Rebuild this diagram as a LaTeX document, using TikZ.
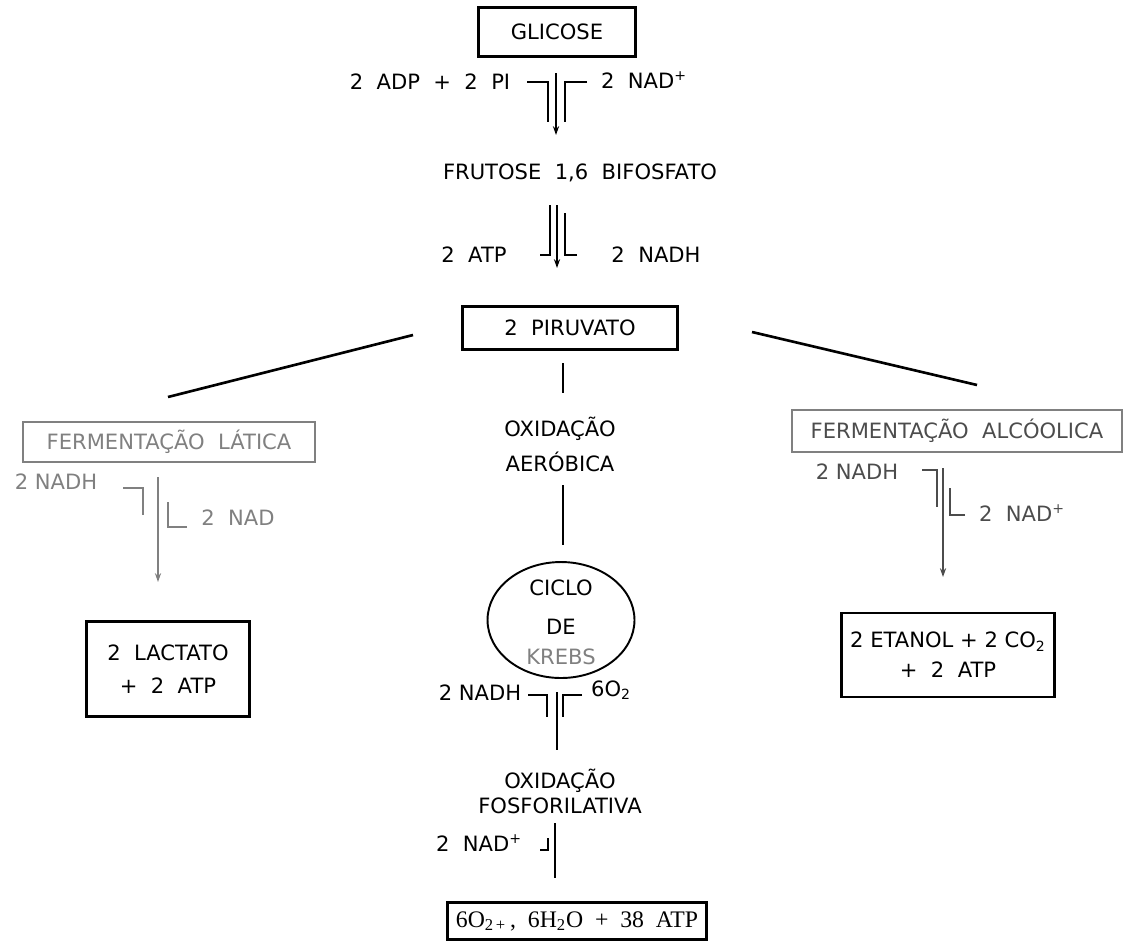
\documentclass[tikz,border=0pt]{standalone}
\usepackage{fontspec}
\setmainfont{DejaVu Sans}
\newfontfamily\serifa{Liberation Serif}
\usepackage{xcolor}
\usetikzlibrary{positioning, arrows.meta, shapes.geometric, calc}
\colorlet{cinza}{black!50}
\colorlet{cinzaesc}{black!70}

\begin{document}
\begin{tikzpicture}[x=0.02cm, y=-0.02cm,
    font=\fontsize{12}{20}\selectfont,
    box/.style={draw, line width=1.4pt, inner sep=0pt, align=center},
    txt/.style={inner sep=0pt, align=center},
    seta/.style={line width=0.9pt, -{Stealth[length=5pt,width=3.5pt]}},
    traco/.style={line width=0.9pt},
    diag/.style={line width=1.5pt}]
    \useasboundingbox (0,0) rectangle (1124,944);

    % Glicolise
    \node[box, minimum width=3.14cm, minimum height=0.98cm] (glicose) at (557,32) {GLICOSE};
    \node[txt] (adp) at (430,82) {2\ \ ADP\ \ +\ \ 2\ \ PI};
    \node[txt] (nadmais) at (644,80) {2\ \ NAD\textsuperscript{+}};
    \node[txt] (frutose) at (580,173) {FRUTOSE\ \ 1,6\ \ BIFOSFATO};
    \node[txt] (atp) at (474,255) {2\ \ ATP};
    \node[txt] (nadh) at (656,255) {2\ \ NADH};
    \node[box, minimum width=4.3cm, minimum height=0.86cm] (piruvato) at (570,328) {2\ \ PIRUVATO};

    \coordinate (g1) at (556,73);
    \coordinate (g2) at (556,135);
    \draw[seta] (g1) -- (g2);
    \coordinate (adpin) at (527,82);
    \draw[traco] (adpin) -- ++(21,0) -- ++(0,40);
    \coordinate (nadin) at (587,82);
    \draw[traco] (nadin) -- ++(-22,0) -- ++(0,40);

    \coordinate (f1) at (557,205);
    \coordinate (f2) at (557,268);
    \draw[seta] (f1) -- (f2);
    \coordinate (atpout) at (540,255);
    \draw[traco] (atpout) -- ++(10,0) -- ++(0,-50);
    \coordinate (nadhout) at (577,255);
    \draw[traco] (nadhout) -- ++(-12,0) -- ++(0,-42);

    % Ramos
    \coordinate (ramoe1) at (413,335);
    \coordinate (ramoe2) at (168,397);
    \draw[diag] (ramoe1) -- (ramoe2);
    \coordinate (ramod1) at (752,332);
    \coordinate (ramod2) at (977,385);
    \draw[diag] (ramod1) -- (ramod2);

    % Fermentacao latica
    \node[box, draw=cinza, text=cinza, line width=1.2pt, minimum width=5.84cm, minimum height=0.8cm] (latica) at (169,442) {FERMENTAÇÃO\ \ LÁTICA};
    \node[txt, text=cinza] (nadhl) at (56,482) {2\ NADH};
    \node[txt, text=cinza] (nadl) at (238,518) {2\ \ NAD};
    \node[box, minimum width=3.26cm, minimum height=1.9cm, font=\fontsize{12}{19}\selectfont] (lactato) at (168,669) {2\ \ LACTATO\\+\ \ 2\ \ ATP};
    \coordinate (l1) at (158,477);
    \coordinate (l2) at (158,582);
    \draw[seta, draw=cinza] (l1) -- (l2);
    \coordinate (nadhlin) at (123,488);
    \draw[traco, draw=cinza] (nadhlin) -- ++(20,0) -- ++(0,27);
    \coordinate (nadlout) at (187,527);
    \draw[traco, draw=cinza] (nadlout) -- ++(-19,0) -- ++(0,-25);

    % Oxidacao aerobica
    \coordinate (p1) at (563,363);
    \coordinate (p2) at (563,393);
    \draw[traco] (p1) -- (p2);
    \node[txt, font=\fontsize{12}{20}\selectfont] (aerobica) at (560,444) {OXIDAÇÃO\\AERÓBICA};
    \coordinate (a1) at (563,485);
    \coordinate (a2) at (563,545);
    \draw[traco] (a1) -- (a2);
    \node[ellipse, draw, line width=1.1pt, minimum width=2.94cm, minimum height=2.32cm] (krebs) at (561,620) {};
    \node[txt] (ciclo) at (561,588) {CICLO};
    \node[txt] (de) at (561,627) {DE};
    \node[txt, text=cinza] (krebstxt) at (561,657) {KREBS};
    \node[txt] (nadhk) at (480,693) {2 NADH};
    \node[txt] (oxig) at (611,690) {6O\textsubscript{2}};
    \coordinate (k1) at (557,692);
    \coordinate (k2) at (557,750);
    \draw[traco] (k1) -- (k2);
    \coordinate (nadhkin) at (528,695);
    \draw[traco] (nadhkin) -- ++(19,0) -- ++(0,22);
    \coordinate (oxigin) at (582,695);
    \draw[traco] (oxigin) -- ++(-19,0) -- ++(0,22);
    \node[txt, font=\fontsize{12}{19}\selectfont] (fosforilativa) at (560,791) {OXIDAÇÃO\\[-0.4em]FOSFORILATIVA};
    \node[txt] (nadk) at (479,843) {2\ \ NAD\textsuperscript{+}};
    \coordinate (o1) at (555,823);
    \coordinate (o2) at (555,878);
    \draw[traco] (o1) -- (o2);
    \coordinate (nadkout) at (540,850);
    \draw[traco] (nadkout) -- ++(8,0) -- ++(0,-12);
    \node[box, minimum width=5.18cm, minimum height=0.74cm, font=\serifa\fontsize{13.5}{16}\selectfont] (final) at (577,921) {6O\textsubscript{2\,+}\,,\ \ 6H\textsubscript{2}O\ \ +\ \ 38\ \ ATP};

    % Fermentacao alcoolica
    \node[box, draw=cinza, text=cinzaesc, line width=1.2pt, minimum width=6.6cm, minimum height=0.84cm] (alcoolica) at (957,431) {FERMENTAÇÃO\ \ ALCÓOLICA};
    \node[txt, text=cinzaesc] (nadhr) at (857,472) {2\ NADH};
    \node[txt, text=cinzaesc] (nadr) at (1022,513) {2\ \ NAD\textsuperscript{+}};
    \node[box, minimum width=4.26cm, minimum height=1.68cm, font=\fontsize{12}{17}\selectfont] (etanol) at (948,655) {2\ ETANOL\ +\ 2\ CO\textsubscript{2}\\+\ \ 2\ \ ATP};
    \coordinate (r1) at (943,468);
    \coordinate (r2) at (943,577);
    \draw[seta, draw=cinzaesc] (r1) -- (r2);
    \coordinate (nadhrin) at (922,470);
    \draw[traco, draw=cinzaesc] (nadhrin) -- ++(15,0) -- ++(0,37);
    \coordinate (nadrout) at (965,515);
    \draw[traco, draw=cinzaesc] (nadrout) -- ++(-15,0) -- ++(0,-27);
\end{tikzpicture}
\end{document}
